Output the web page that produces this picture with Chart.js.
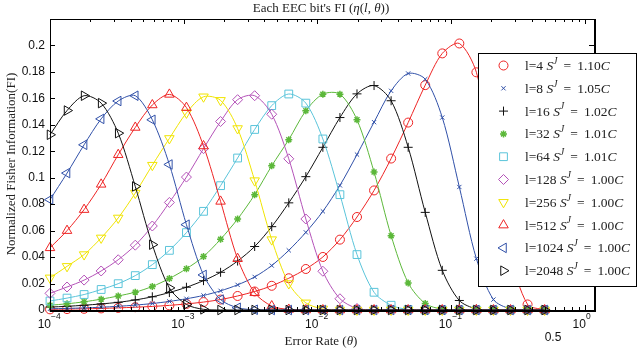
<!DOCTYPE html>
<html>
<head>
<meta charset="utf-8">
<script src="https://cdn.jsdelivr.net/npm/chart.js@4.4.0/dist/chart.umd.min.js"></script>
<style>
  html, body { margin: 0; padding: 0; background: #fff; }
  #wrap { width: 637px; height: 356px; position: relative; }
</style>
</head>
<body>
<div id="wrap"><canvas id="fiChart"></canvas></div>
<script>
// === DATA ===
const thetas = [1.0e-4, 1.341e-4, 1.799e-4, 2.413e-4, 3.237e-4, 4.342e-4, 5.824e-4, 7.812e-4,
  1.048e-3, 1.406e-3, 1.886e-3, 2.529e-3, 3.393e-3, 4.551e-3, 6.104e-3, 8.188e-3,
  1.098e-2, 1.473e-2, 1.976e-2, 2.651e-2, 3.556e-2, 4.770e-2, 6.398e-2, 8.582e-2,
  0.1151, 0.1544, 0.2071, 0.2779, 0.3727, 0.5];

const fiL4    = [0.0005, 0.0007, 0.0009, 0.0012, 0.0016, 0.0021, 0.0027, 0.0035, 0.0046, 0.0060, 0.0079, 0.0106, 0.0140, 0.0183, 0.0240, 0.0310, 0.0401, 0.0532, 0.0703, 0.0904, 0.1145, 0.1417, 0.1700, 0.1940, 0.2015, 0.1797, 0.1150, 0.0420, 0.0042, 0.0001];
const fiL8    = [0.0009, 0.0012, 0.0016, 0.0021, 0.0028, 0.0037, 0.0049, 0.0065, 0.0085, 0.0110, 0.0145, 0.0190, 0.0250, 0.0336, 0.0451, 0.0587, 0.0746, 0.0942, 0.1175, 0.1420, 0.1657, 0.1788, 0.1745, 0.1455, 0.0930, 0.0388, 0.0079, 0.0008, 0, 0];
const fiL16   = [0.0022, 0.0028, 0.0036, 0.0046, 0.0058, 0.0076, 0.0100, 0.0132, 0.0172, 0.0222, 0.0285, 0.0370, 0.0480, 0.0630, 0.0810, 0.1008, 0.1230, 0.1455, 0.1634, 0.1697, 0.1582, 0.1230, 0.0738, 0.0300, 0.0072, 0.0008, 0, 0, 0, 0];
const fiL32   = [0.0036, 0.0047, 0.0062, 0.0082, 0.0106, 0.0135, 0.0178, 0.0238, 0.0312, 0.0404, 0.0535, 0.0688, 0.0872, 0.1090, 0.1288, 0.1506, 0.1632, 0.1632, 0.1438, 0.1043, 0.0562, 0.0205, 0.0049, 0.0006, 0, 0, 0, 0, 0, 0];
const fiL64   = [0.0068, 0.0090, 0.0117, 0.0155, 0.0199, 0.0260, 0.0343, 0.0451, 0.0585, 0.0746, 0.0940, 0.1149, 0.1365, 0.1545, 0.1633, 0.1564, 0.1293, 0.0872, 0.0419, 0.0134, 0.0036, 0.0004, 0, 0, 0, 0, 0, 0, 0, 0];
const fiL128  = [0.0126, 0.0174, 0.0226, 0.0295, 0.0380, 0.0490, 0.0635, 0.0813, 0.1005, 0.1220, 0.1425, 0.1590, 0.1620, 0.1480, 0.1143, 0.0688, 0.0293, 0.0085, 0.0012, 0, 0, 0, 0, 0, 0, 0, 0, 0, 0, 0];
const fiL256  = [0.0243, 0.0330, 0.0419, 0.0545, 0.0696, 0.0884, 0.1095, 0.1297, 0.1490, 0.1612, 0.1585, 0.1372, 0.0978, 0.0532, 0.0200, 0.0054, 0.0008, 0, 0, 0, 0, 0, 0, 0, 0, 0, 0, 0, 0, 0];
const fiL512  = [0.0470, 0.0600, 0.0759, 0.0950, 0.1174, 0.1380, 0.1550, 0.1630, 0.1530, 0.1240, 0.0821, 0.0388, 0.0130, 0.0030, 0.0004, 0, 0, 0, 0, 0, 0, 0, 0, 0, 0, 0, 0, 0, 0, 0];
const fiL1024 = [0.0834, 0.1035, 0.1249, 0.1445, 0.1580, 0.1620, 0.1438, 0.1100, 0.0645, 0.0265, 0.0079, 0.0017, 0.0002, 0, 0, 0, 0, 0, 0, 0, 0, 0, 0, 0, 0, 0, 0, 0, 0, 0];
const fiL2048 = [0.1325, 0.1508, 0.1620, 0.1564, 0.1337, 0.0934, 0.0494, 0.0167, 0.0042, 0.0005, 0, 0, 0, 0, 0, 0, 0, 0, 0, 0, 0, 0, 0, 0, 0, 0, 0, 0, 0, 0];

const levels   = ['4', '8', '16', '32', '64', '128', '256', '512', '1024', '2048'];
const sjValues = ['1.10', '1.05', '1.02', '1.01', '1.01', '1.00', '1.00', '1.00', '1.00', '1.00'];
const xTickExps   = [-4, -3, -2, -1, 0];
const yTickVals   = [0, 0.02, 0.04, 0.06, 0.08, 0.1, 0.12, 0.14, 0.16, 0.18, 0.2];
const yTickLabels = ['0', '0.02', '0.04', '0.06', '0.08', '0.1', '0.12', '0.14', '0.16', '0.18', '0.2'];

const series = [fiL4, fiL8, fiL16, fiL32, fiL64, fiL128, fiL256, fiL512, fiL1024, fiL2048];

// === LOOKS ===
const looks = [
  { color: '#ee2424', style: 'circle',   r: 4.5, rot: 0,   bw: 1 },
  { color: '#3050a8', style: 'crossRot', r: 3,   rot: 0,   bw: 1 },
  { color: '#111111', style: 'cross',    r: 4.5, rot: 0,   bw: 1 },
  { color: '#5cb83a', style: 'star',     r: 3.5, rot: 0,   bw: 1.5 },
  { color: '#5ac4da', style: 'rect',     r: 5.5, rot: 0,   bw: 1 },
  { color: '#b452b8', style: 'rectRot',  r: 5,   rot: 0,   bw: 1 },
  { color: '#f0e400', style: 'triangle', r: 5.5, rot: 180, bw: 1 },
  { color: '#ee2424', style: 'triangle', r: 5.5, rot: 0,   bw: 1 },
  { color: '#3050a8', style: 'triangle', r: 5.5, rot: 270, bw: 1 },
  { color: '#111111', style: 'triangle', r: 5.5, rot: 90,  bw: 1 }
];

const SERIF = "'Liberation Serif', 'DejaVu Serif', serif";
const SANS = "'Liberation Sans', Arial, sans-serif";

// draws text made of parts: [text, kind] kind: '' normal, 'i' italic, 'si' superscript italic
function richWidth(ctx, parts, size) {
  let w = 0;
  parts.forEach(([t, k]) => {
    const s = k.startsWith('s') ? size * 0.7 : size;
    ctx.font = (k.includes('i') ? 'italic ' : '') + s + 'px ' + SERIF;
    w += ctx.measureText(t).width;
  });
  return w;
}
function drawRich(ctx, parts, x, y, size, align) {
  let cx = align === 'center' ? x - richWidth(ctx, parts, size) / 2 : x;
  ctx.textBaseline = 'middle';
  ctx.textAlign = 'left';
  parts.forEach(([t, k]) => {
    const sup = k.startsWith('s');
    const s = sup ? size * 0.7 : size;
    ctx.font = (k.includes('i') ? 'italic ' : '') + s + 'px ' + SERIF;
    ctx.fillText(t, cx, sup ? y - size * 0.38 : y);
    cx += ctx.measureText(t).width;
  });
}

function markerAt(ctx, look, x, y) {
  ctx.save();
  ctx.strokeStyle = look.color;
  ctx.fillStyle = 'rgba(0,0,0,0)';
  ctx.lineWidth = look.bw;
  Chart.helpers.drawPoint(ctx, { pointStyle: look.style, rotation: look.rot, radius: look.r, borderWidth: look.bw }, x, y);
  ctx.restore();
}

// === AXES, TICKS, LABELS, LEGEND ===
const decorPlugin = {
  id: 'decor',
  afterDatasetsDraw(chart) {
    const { ctx, chartArea: a, scales: { x, y } } = chart;
    ctx.save();
    ctx.strokeStyle = '#000';
    ctx.lineWidth = 1;

    // x ticks (major decades, minor 2..9) on bottom and top, inside
    ctx.beginPath();
    xTickExps.forEach(e => {
      for (let m = 1; m <= 9; m++) {
        const v = m * Math.pow(10, e);
        if (v > x.max) break;
        const px = Math.round(x.getPixelForValue(v)) + 0.5;
        const len = m === 1 ? 5 : 3;
        ctx.moveTo(px, a.bottom); ctx.lineTo(px, a.bottom - len);
        ctx.moveTo(px, a.top); ctx.lineTo(px, a.top + len);
      }
    });
    // y ticks left and right
    yTickVals.forEach(v => {
      const py = Math.round(y.getPixelForValue(v)) + 0.5;
      ctx.moveTo(a.left, py); ctx.lineTo(a.left + 5, py);
      ctx.moveTo(a.right, py); ctx.lineTo(a.right - 5, py);
    });
    ctx.stroke();

    // box
    ctx.strokeRect(Math.round(a.left) + 0.5, Math.round(a.top) + 0.5, Math.round(a.right - a.left), Math.round(a.bottom - a.top));
    ctx.lineWidth = 2;
    ctx.beginPath();
    ctx.moveTo(a.left, Math.round(a.bottom) + 1); ctx.lineTo(a.right + 1, Math.round(a.bottom) + 1);
    ctx.lineTo(a.right + 1, a.top);
    ctx.stroke();

    // tick labels
    ctx.fillStyle = '#111';
    ctx.font = '12px ' + SANS;
    ctx.textAlign = 'right';
    ctx.textBaseline = 'middle';
    yTickVals.forEach((v, i) => ctx.fillText(yTickLabels[i], 45, y.getPixelForValue(v)));
    xTickExps.forEach(e => {
      const px = x.getPixelForValue(Math.pow(10, e));
      ctx.font = '12px ' + SANS;
      ctx.textAlign = 'right';
      ctx.fillText('10', px + 1, 325);
      ctx.font = '8.5px ' + SANS;
      ctx.textAlign = 'left';
      ctx.fillText(e === 0 ? '0' : '\u2212' + Math.abs(e), px + 1, 317);
    });
    ctx.font = '12px ' + SANS;
    ctx.textAlign = 'center';
    ctx.fillText('0.5', 553, 338);

    // title and axis titles
    ctx.fillStyle = '#222';
    drawRich(ctx, [["Each EEC bit's FI (", ''], ['\u03b7', 'i'], ['(', ''], ['l', 'i'], [', ', ''], ['\u03b8', 'i'], ['))', '']], 321, 9, 13, 'center');
    drawRich(ctx, [['Error Rate (', ''], ['\u03b8', 'i'], [')', '']], 321, 342, 13, 'center');
    ctx.save();
    ctx.translate(12, 164);
    ctx.rotate(-Math.PI / 2);
    drawRich(ctx, [['Normalized Fisher Information(FI)', '']], 0, 0, 13, 'center');
    ctx.restore();

    // legend
    const lx = 478.5, ly = 53.5, lw = 158, lh = 233;
    ctx.fillStyle = '#fff';
    ctx.fillRect(lx, ly, lw, lh);
    ctx.strokeStyle = '#000';
    ctx.lineWidth = 1;
    ctx.strokeRect(lx, ly, lw, lh);
    levels.forEach((l, i) => {
      const ry = 65.5 + i * 22.8;
      markerAt(ctx, looks[i], 503.5, ry);
      ctx.fillStyle = '#222';
      drawRich(ctx, [['l=' + l + ' ', ''], ['S', 'i'], ['J', 'si'], ['\u2009 = \u2009' + sjValues[i], ''], ['C', 'i']], 525, ry + 1, 13.5, 'left');
    });
    ctx.restore();
  }
};

const datasets = series.map((vals, i) => ({
  label: 'l=' + levels[i],
  data: thetas.map((t, j) => ({ x: t, y: vals[j] })),
  borderColor: looks[i].color,
  borderWidth: 1,
  backgroundColor: 'rgba(0,0,0,0)',
  pointStyle: looks[i].style,
  pointRadius: looks[i].r,
  pointRotation: looks[i].rot,
  pointBorderWidth: looks[i].bw,
  pointBorderColor: looks[i].color,
  pointBackgroundColor: 'rgba(0,0,0,0)',
  tension: 0.3,
  fill: false,
  clip: false,
  order: series.length - 1 - i
}));

new Chart(document.getElementById('fiChart'), {
  type: 'line',
  data: { datasets },
  options: {
    responsive: true,
    maintainAspectRatio: false,
    animation: false,
    devicePixelRatio: 1,
    layout: { padding: { left: 50, right: 43, top: 19, bottom: 46 } },
    plugins: { legend: { display: false }, tooltip: { enabled: false }, title: { display: false } },
    scales: {
      x: { type: 'logarithmic', min: 1e-4, max: 1.17, display: false },
      y: { type: 'linear', min: 0, max: 0.22, display: false }
    }
  },
  plugins: [decorPlugin]
});
</script>
</body>
</html>
